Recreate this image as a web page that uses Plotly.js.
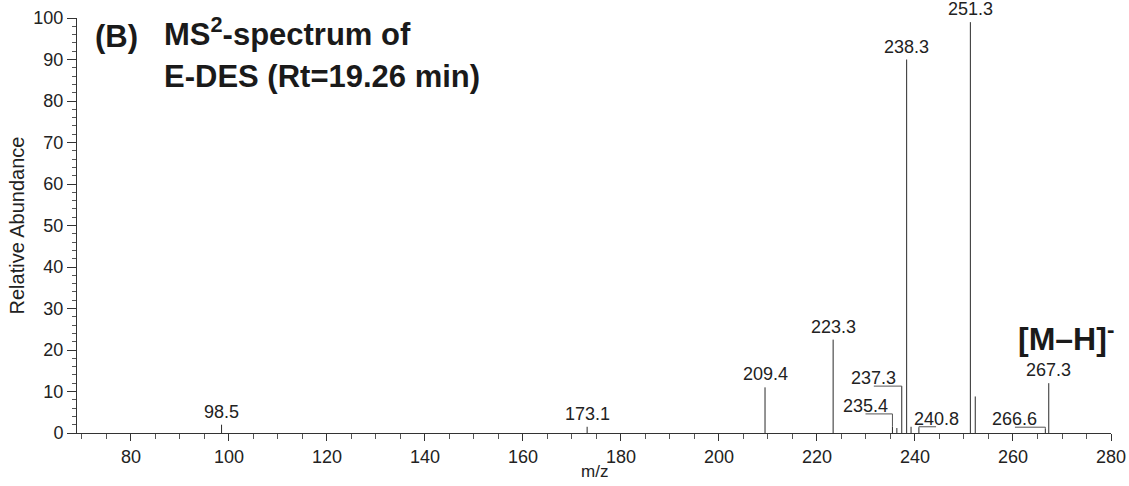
<!DOCTYPE html>
<html>
<head>
<meta charset="utf-8">
<script src="https://cdn.plot.ly/plotly-3.0.1.min.js"></script>
<style>html,body{margin:0;padding:0;background:#fff;}#chart{width:1129px;height:486px;}</style>
</head>
<body>
<div id="chart"></div>
<script>
// ---- data ----
const mz        = [98.5, 173.1, 209.4, 223.3, 235.4, 236.3, 237.3, 238.3, 239.2, 240.8, 251.3, 252.3, 266.6, 267.3];
const intensity = [2.0,  1.5,   11.0,  22.5,  1.5,   1.2,   11.3,  90.0,  1.5,   1.2,   99.0,  8.8,   1.0,   12.0];

// peaks labelled directly above
const topLabelMz = [98.5, 173.1, 209.4, 223.3, 238.3, 251.3, 267.3];
// peaks labelled with an offset label and a leader line
const offLabelMz    = [237.3, 235.4, 240.8, 266.6];
const offLabelX     = [231.6, 229.9, 244.3, 260.4];
const offLabelY     = [11.3,  4.6,   1.5,   1.4];

const xTickVals = [80, 100, 120, 140, 160, 180, 200, 220, 240, 260, 280];
const yTickVals = [0, 10, 20, 30, 40, 50, 60, 70, 80, 90, 100];

// ---- build traces ----
const sx = [], sy = [];
mz.forEach((m, i) => { sx.push(m, m, null); sy.push(0, intensity[i], null); });
const sticks = {x: sx, y: sy, type: 'scatter', mode: 'lines',
  line: {color: '#2a2a2a', width: 1}, hoverinfo: 'skip', showlegend: false};

const heightOf = m => intensity[mz.indexOf(m)];
const cx = [], cy = [];
offLabelMz.forEach((m, i) => {
  cx.push(offLabelX[i], m, m, null);
  cy.push(offLabelY[i], offLabelY[i], heightOf(m), null);
});
const leaders = {x: cx, y: cy, type: 'scatter', mode: 'lines',
  line: {color: '#555', width: 1}, hoverinfo: 'skip', showlegend: false};

const FONT = 'Liberation Sans, Arial, sans-serif';
const annotations = [];
topLabelMz.forEach(m => annotations.push({
  x: m, y: heightOf(m), xref: 'x', yref: 'y', text: m.toFixed(1), showarrow: false,
  xanchor: 'center', yanchor: 'bottom', yshift: 1, font: {family: FONT, size: 18, color: '#222'}
}));
offLabelMz.forEach((m, i) => annotations.push({
  x: offLabelX[i], y: offLabelY[i], xref: 'x', yref: 'y', text: m.toFixed(1), showarrow: false,
  xanchor: 'center', yanchor: 'bottom', yshift: -4, font: {family: FONT, size: 18, color: '#222'}
}));
// panel title (pixel rows converted to paper coordinates of the 415px-high plot area starting at y=18)
const py = p => 1 - (p - 18) / 415;
annotations.push({xref: 'paper', yref: 'paper', x: 0.0155, y: py(36), xanchor: 'left', yanchor: 'middle',
  text: '<b>(B)</b>', showarrow: false, font: {family: FONT, size: 31, color: '#1a1a1a'}});
annotations.push({xref: 'paper', yref: 'paper', x: 0.082, y: py(32), xanchor: 'left', yanchor: 'middle',
  text: '<b>MS<sup>2</sup>-spectrum of</b>', showarrow: false, font: {family: FONT, size: 31, color: '#1a1a1a'}});
annotations.push({xref: 'paper', yref: 'paper', x: 0.082, y: py(77), xanchor: 'left', yanchor: 'middle',
  text: '<b>E-DES (Rt=19.26 min)</b>', showarrow: false, font: {family: FONT, size: 31, color: '#1a1a1a'}});
// precursor label
annotations.push({xref: 'paper', yref: 'paper', x: 0.908, y: py(337), xanchor: 'left', yanchor: 'middle',
  text: '<b>[M\u2013H]<sup>-</sup></b>', showarrow: false, font: {family: FONT, size: 32, color: '#1a1a1a'}});
// x-axis title
annotations.push({xref: 'paper', yref: 'paper', x: 0.5, y: py(471), xanchor: 'center', yanchor: 'middle',
  text: 'm/z', showarrow: false, font: {family: FONT, size: 17, color: '#222'}});

const layout = {
  width: 1129, height: 486,
  margin: {l: 77, r: 18, t: 18, b: 53, pad: 0},
  paper_bgcolor: '#fff', plot_bgcolor: '#fff',
  font: {family: FONT, size: 18, color: '#222'},
  xaxis: {
    range: [69, 280], tickvals: xTickVals, ticktext: xTickVals.map(String),
    showgrid: false, zeroline: false, showline: true, linecolor: '#333', linewidth: 1,
    ticks: 'outside', ticklen: 7, tickcolor: '#333',
    minor: {dtick: 5, tick0: 0, ticks: 'outside', ticklen: 5, tickcolor: '#555', showgrid: false},
    tickfont: {family: FONT, size: 18, color: '#222'}
  },
  yaxis: {
    range: [0, 100], tickvals: yTickVals, ticktext: yTickVals.map(String),
    showgrid: false, zeroline: false, showline: true, linecolor: '#333', linewidth: 1,
    ticks: 'outside', ticklen: 9, tickcolor: '#333',
    minor: {dtick: 2, tick0: 0, ticks: 'outside', ticklen: 4, tickcolor: '#555', showgrid: false},
    tickfont: {family: FONT, size: 18, color: '#222'},
    title: {text: 'Relative Abundance', font: {family: FONT, size: 20, color: '#222'}, standoff: 3}
  },
  annotations: annotations,
  showlegend: false
};

Plotly.newPlot('chart', [sticks, leaders], layout, {staticPlot: true, displayModeBar: false});
</script>
</body>
</html>
